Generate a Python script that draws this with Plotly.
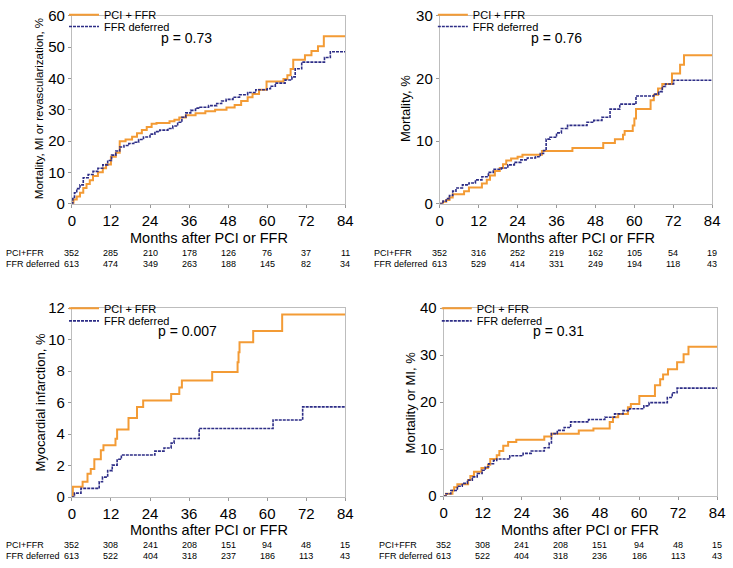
import plotly.graph_objects as go

W, H = 733, 568
FONT = "Liberation Sans, Arial, sans-serif"
NARROW = "Liberation Sans Narrow, Arial Narrow, Liberation Sans, sans-serif"
ORANGE = "#F39B35"
BLUE = "#2D2D86"

months_ticks = [0, 12, 24, 36, 48, 60, 72, 84]
series_names = ["PCI + FFR", "FFR deferred"]

# ---- Panel 1: Mortality, MI or revascularization
p1_pci_t = [0, 0.5, 1.5, 2.5, 3.5, 4.5, 5.5, 6.5, 8, 9.5, 10.5, 12, 13.5, 14.7, 16.5, 18.5, 20, 21.5, 23, 24.5,
            26, 30, 31.5, 33, 35, 38, 41, 44, 47.5, 50, 52, 54, 55.5, 57.5, 59.8, 65, 66.2, 67.2, 68, 71.6,
            73.6, 75.6, 77.4, 84]
p1_pci_v = [0, 1.3, 2.3, 3.5, 5, 6.3, 7.5, 8.8, 10, 11.3, 12.5, 15, 16.3, 19.9, 20.5, 21.4, 22.5, 23.5, 24.5, 25.5,
            25.8, 26.3, 26.8, 27.5, 28.2, 28.9, 29.5, 30, 30.7, 31.5, 32.8, 34, 35, 36.4, 39, 39.8, 41, 43, 46, 47.4,
            48.8, 50.3, 53.5, 53.5]
p1_ffr_t = [0, 0.3, 0.8, 1.5, 2.5, 3.5, 5, 6.5, 8, 9.5, 11, 12.2, 13.5, 14.7, 16, 17.5, 19, 20.5, 22, 24,
            25.5, 27, 29.5, 31, 32.5, 33.8, 35, 36.5, 38, 39.4, 42, 44.5, 46, 47.4, 49.5, 51.5, 54, 56.5, 60, 61,
            62.5, 65.5, 67.6, 68.6, 70.6, 77.6, 79.4, 84]
p1_ffr_v = [0, 2, 3.5, 4.8, 6, 8.3, 9.3, 10.3, 11.3, 12.4, 13.8, 15.5, 16.8, 18.1, 18.6, 19.2, 19.6, 20.5, 21.3, 22.2,
            23, 23.5, 24, 24.8, 26, 27.6, 29, 29.8, 30.5, 30.8, 31.3, 32, 32.8, 33.3, 34, 34.8, 35.5, 36.4, 36.7, 37.5,
            38.5, 39.5, 40.5, 43.1, 45.2, 46.7, 48.5, 48.5]
p1_risk_pci = [352, 285, 210, 178, 126, 76, 37, 11]
p1_risk_ffr = [613, 474, 349, 263, 188, 145, 82, 34]

# ---- Panel 2: Mortality
p2_pci_t = [0, 1, 2, 3, 4, 7.5, 9, 13, 14.5, 15.5, 17, 18.5, 19.5, 20.5, 22, 24, 25.5, 31.5, 40.9, 50.4,
            54, 56.5, 57, 59.5, 60, 60.5, 65, 66, 67.3, 68.6, 71.6, 74.1, 75.3, 84]
p2_pci_v = [0, 0.3, 0.6, 1, 1.5, 2, 2.6, 3.2, 3.8, 4.5, 5.2, 5.7, 6.3, 6.9, 7.2, 7.5, 7.8, 8.4, 8.9, 9.7,
            10.3, 11, 11.6, 12.5, 13.6, 15.1, 16.5, 17.4, 18.4, 19.1, 20.8, 22.2, 23.7, 23.7]
p2_ffr_t = [0, 1, 2, 3, 4, 5, 7, 9, 11, 13, 15, 16.5, 19, 21, 23, 25, 27, 29.5, 31, 32,
            32.8, 34, 36, 37.5, 39.4, 45.4, 47.5, 50, 52.5, 55.5, 60.5, 66, 67.5, 68.6, 69.6, 72.1, 84]
p2_ffr_v = [0, 0.4, 0.8, 1.3, 2, 2.5, 3, 3.3, 3.8, 4.3, 5, 5.5, 5.7, 6.2, 6.6, 7, 7.3, 7.5, 8, 8.5,
            10.3, 10.6, 11.3, 12, 12.5, 13, 13.3, 13.8, 15.1, 15.9, 17.2, 17.5, 17.9, 18.7, 19.1, 19.7, 19.7]
p2_risk_pci = [352, 316, 252, 219, 162, 105, 54, 19]
p2_risk_ffr = [613, 529, 414, 331, 249, 194, 118, 43]

# ---- Panel 3: Myocardial infarction
p3_pci_t = [0, 0.3, 3.3, 4.8, 5.8, 6.9, 8.9, 9.7, 13.4, 13.9, 17.4, 20, 21.9, 30.5, 33, 33.8, 43.1, 50.9, 51.2, 51.5,
            55.7, 64.6, 84]
p3_pci_v = [0, 0.66, 0.97, 1.48, 1.79, 2.4, 2.98, 3.29, 3.7, 4.3, 5.03, 5.73, 6.14, 6.55, 6.97, 7.4, 7.95, 8.57, 9.2, 9.84,
            10.56, 11.6, 11.6]
p3_ffr_t = [0, 0.8, 2.8, 8.4, 9.4, 11, 12.4, 13.9, 15.2, 25.5, 28.3, 30.5, 31.4, 39.1, 61.8, 70.9, 84]
p3_ffr_v = [0, 0.25, 0.55, 0.97, 1.27, 1.68, 2.03, 2.4, 2.67, 2.92, 3.12, 3.43, 3.72, 4.36, 4.9, 5.73, 5.73]
p3_risk_pci = [352, 308, 241, 208, 151, 94, 48, 15]
p3_risk_ffr = [613, 522, 404, 318, 237, 186, 113, 43]

# ---- Panel 4: Mortality or MI
p4_pci_t = [0, 0.7, 2.7, 3.2, 4.2, 7.5, 8.2, 9.3, 11.6, 13.6, 14.3, 16.3, 17.1, 18.3, 19.8, 22.3, 30.9, 33.1, 41.5, 46,
            51, 52, 53.6, 56.6, 57.5, 60.1, 64.9, 66.5, 67.4, 68.9, 71.7, 73.7, 75.2, 84]
p4_pci_v = [0, 0.5, 1.2, 1.9, 2.5, 3.4, 4.3, 5.2, 6.0, 6.7, 7.9, 8.7, 9.6, 10.7, 11.5, 12.0, 12.7, 13.3, 13.95, 14.4,
            15.8, 16.8, 17.5, 18.9, 19.6, 21.3, 23.6, 24.9, 25.9, 27, 28.5, 30.2, 31.8, 31.8]
p4_ffr_t = [0, 0.7, 2.2, 4.2, 5.7, 7.3, 8.8, 10.3, 11.8, 12.8, 13.8, 15.3, 16.3, 20.3, 24.4, 26.9, 30.9, 32.4, 33.1, 34.9,
            37, 39, 44.5, 49.5, 52.5, 55.1, 57.1, 61.5, 63.1, 68.7, 70.2, 71.7, 84]
p4_ffr_v = [0, 0.5, 1.2, 2.1, 2.7, 3.4, 4.1, 4.8, 5.5, 6.2, 6.9, 7.6, 7.9, 8.6, 9.1, 9.6, 10.3, 11.3, 13.3, 14.0,
            14.6, 15.8, 16.3, 16.8, 17.5, 18.2, 18.6, 19.2, 19.9, 21.0, 22.0, 23.0, 23.0]
p4_risk_pci = [352, 308, 241, 208, 151, 94, 48, 15]
p4_risk_ffr = [613, 522, 404, 318, 236, 186, 113, 43]

y_titles = ["Mortality, MI or revascularization, %", "Mortality, %", "Myocardial infarction, %", "Mortality or MI, %"]
y_maxes = [60, 30, 12, 40]
y_dticks = [10, 10, 2, 10]
p_values = ["p = 0.73", "p = 0.76", "p = 0.007", "p = 0.31"]
x_title = "Months after PCI or FFR"


def px(v):
    return v / W


def py(v):
    return 1 - v / H


panels = [
    dict(pci=(p1_pci_t, p1_pci_v), ffr=(p1_ffr_t, p1_ffr_v), risk=(p1_risk_pci, p1_risk_ffr),
         xd=(69, 347), yd=(6, 200), ytx=35, yty=102, ytsize=11.5, ptx=186, pty=29,
         legx=70, legy=(13, 25), riskx=0, risky=(251, 262), xtity=235),
    dict(pci=(p2_pci_t, p2_pci_v), ffr=(p2_ffr_t, p2_ffr_v), risk=(p2_risk_pci, p2_risk_ffr),
         xd=(443, 720), yd=(6, 200), ytx=408, yty=102, ytsize=13, ptx=562, pty=29,
         legx=445, legy=(13, 25), riskx=374, risky=(251, 262), xtity=235),
    dict(pci=(p3_pci_t, p3_pci_v), ffr=(p3_ffr_t, p3_ffr_v), risk=(p3_risk_pci, p3_risk_ffr),
         xd=(69, 347), yd=(308, 503), ytx=37, yty=405, ytsize=13, ptx=187, pty=331,
         legx=70, legy=(316, 329), riskx=0, risky=(553, 564), xtity=537),
    dict(pci=(p4_pci_t, p4_pci_v), ffr=(p4_ffr_t, p4_ffr_v), risk=(p4_risk_pci, p4_risk_ffr),
         xd=(447, 725), yd=(308, 502), ytx=413, yty=405, ytsize=13, ptx=564, pty=331,
         legx=449, legy=(316, 329), riskx=379, risky=(553, 564), xtity=537),
]

fig = go.Figure()
annotations = []
layout_axes = {}
LEG_DX = 9   # legend box left edge to start of the line sample
LEG_DY = 8   # legend box centre to row centre

for i, p in enumerate(panels):
    k = i + 1
    sx = "" if k == 1 else str(k)
    xa, ya = "x" + sx, "y" + sx
    lg_a = "legend" + ("" if k == 1 else str(2 * k - 1))
    lg_b = "legend" + str(2 * k)
    fig.add_trace(go.Scatter(x=p["pci"][0], y=p["pci"][1], mode="lines", line_shape="hv",
                             line=dict(color=ORANGE, width=2), name=series_names[0],
                             xaxis=xa, yaxis=ya, legend=lg_a))
    fig.add_trace(go.Scatter(x=p["ffr"][0], y=p["ffr"][1], mode="lines", line_shape="hv",
                             line=dict(color=BLUE, width=1.6, dash="3px,1px"), name=series_names[1],
                             xaxis=xa, yaxis=ya, legend=lg_b))
    axcommon = dict(showline=True, linecolor="#bdbdbd", linewidth=1, mirror=True, ticks="outside",
                    ticklen=3, tickcolor="#999999", showgrid=False, zeroline=False,
                    tickfont=dict(family=FONT, size=15, color="black"))
    layout_axes["xaxis" + sx] = dict(axcommon, domain=[px(p["xd"][0]), px(p["xd"][1])], anchor=ya,
                                     range=[0, 84], tickvals=months_ticks)
    layout_axes["yaxis" + sx] = dict(axcommon, domain=[py(p["yd"][1]), py(p["yd"][0])], anchor=xa,
                                     range=[0, y_maxes[i]], dtick=y_dticks[i])
    for lg, ly in ((lg_a, p["legy"][0]), (lg_b, p["legy"][1])):
        layout_axes[lg] = dict(x=px(p["legx"] - LEG_DX), y=py(ly - LEG_DY), xanchor="left", yanchor="middle",
                               bgcolor="rgba(0,0,0,0)", font=dict(family=NARROW, size=11, color="black"),
                               itemwidth=30, tracegroupgap=0)
    # y title
    annotations.append(dict(x=px(p["ytx"]), y=py(p["yty"]), xref="paper", yref="paper", text=y_titles[i],
                            textangle=-90, showarrow=False, xanchor="center", yanchor="middle",
                            font=dict(family=FONT, size=p["ytsize"], color="black")))
    # x title
    annotations.append(dict(x=(p["xd"][0] + p["xd"][1]) / 2 / W, y=py(p["xtity"]), xref="paper", yref="paper",
                            text=x_title, showarrow=False, xanchor="center", yanchor="middle",
                            font=dict(family=FONT, size=14.5, color="black")))
    # p-value
    annotations.append(dict(x=px(p["ptx"]), y=py(p["pty"]), xref="paper", yref="paper", text=p_values[i],
                            showarrow=False, xanchor="center", yanchor="middle",
                            font=dict(family=FONT, size=14, color="black")))
    # risk table
    for r, (lab, vals) in enumerate(zip(series_names, p["risk"])):
        annotations.append(dict(x=px(p["riskx"]), y=py(p["risky"][r]), xref="paper", yref="paper",
                                text=lab.replace(" + ", "+"), showarrow=False, xanchor="left", yanchor="middle",
                                font=dict(family=FONT, size=9, color="black")))
        for t, v in zip(months_ticks, vals):
            annotations.append(dict(x=t, y=py(p["risky"][r]), xref=xa, yref="paper", text=str(v),
                                    showarrow=False, xanchor="center", yanchor="middle",
                                    font=dict(family=FONT, size=9, color="black")))

fig.update_layout(width=W, height=H, margin=dict(l=0, r=0, t=0, b=0), plot_bgcolor="white",
                  paper_bgcolor="white", annotations=annotations, showlegend=True, **layout_axes)

fig.write_html("out.html", config={"displayModeBar": False},
               post_script="document.body.style.margin='0';document.body.style.overflow='hidden';")
